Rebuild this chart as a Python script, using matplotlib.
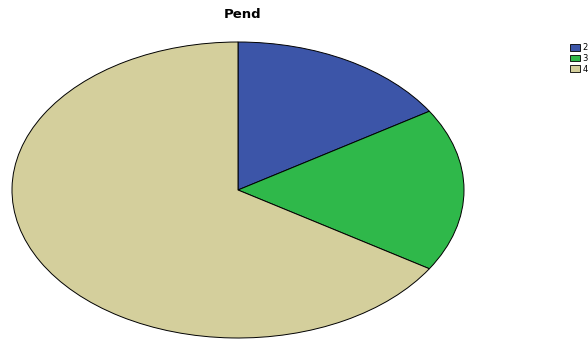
import matplotlib
matplotlib.use("Agg")
import matplotlib.pyplot as plt
from matplotlib.patches import Patch

categories = ["2", "3", "4"]
values = [9, 10, 37]
colors = ["#3c55a8", "#2fb84a", "#d4cf9c"]

fig = plt.figure(figsize=(5.88, 3.39), dpi=100)
ax = fig.add_axes([12/588, 1/339, 452/588, 296/339])
ax.pie(values, colors=colors, startangle=90, counterclock=False,
       wedgeprops=dict(edgecolor="black", linewidth=0.7))
ax.set_aspect("auto")
ax.set_xlim(-1.0, 1.0)
ax.set_ylim(-1.0, 1.0)
ax.axis("off")
for p in ax.patches:
    p.set_clip_on(False)

fig.text(243/588, 1 - 15/339, "Pend", ha="center", va="center",
         fontsize=9.5, fontweight="bold")

handles = [Patch(facecolor=c, edgecolor="black", linewidth=0.6) for c in colors]
fig.legend(handles, categories, loc="upper left", bbox_to_anchor=(566/588, 1 - 39/339),
           frameon=False, fontsize=6, handlelength=1.2, handleheight=0.9,
           labelspacing=0.2, handletextpad=0.3, borderpad=0)

fig.savefig("out.png", dpi=100)
